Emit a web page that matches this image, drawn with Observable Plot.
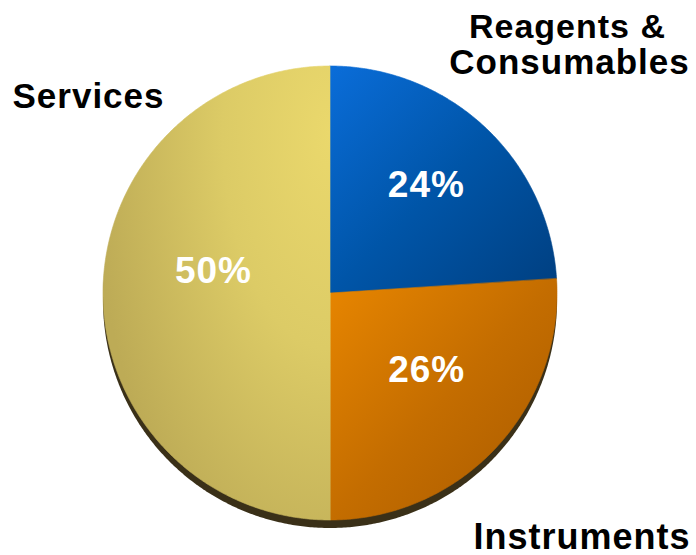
<!DOCTYPE html>
<html><head><meta charset="utf-8">
<script src="https://cdn.jsdelivr.net/npm/d3@7"></script>
<script src="https://cdn.jsdelivr.net/npm/@observablehq/plot@0.6"></script>
<style>
html,body{margin:0;padding:0;background:#fff;}
#chart svg text{letter-spacing:1px;}
</style></head><body><div id="chart"></div>
<script>
// ---- data ----
const categories = ["Reagents & Consumables", "Instruments", "Services"];
const shares = [24, 26, 50];
const valueLabels = ["24%", "26%", "50%"];
const nameLabels = ["Reagents &", "Consumables", "Instruments", "Services"];

// ---- layout / style ----
const W = 696, H = 555, CX = 330, CY = 293, R = 227;
const FONT = "'Liberation Sans', Arial, Helvetica, sans-serif";
const gradients = [
  {id: "g0", x1: 0, y1: 0, x2: 1, y2: 1, stops: [[0, "#0a6dd9"], [0.5, "#0055a8"], [1, "#003f80"]]},
  {id: "g1", x1: 0, y1: 0, x2: 1, y2: 1, stops: [[0, "#e88600"], [0.5, "#c46d00"], [1, "#a85a00"]]}
];
const labelNudge = [[-2, -4], [-8, -21], [26, -22]];

const total = d3.sum(shares);
let acc = 0;
const slices = categories.map((c, i) => {
  const a0 = acc / total * 2 * Math.PI; acc += shares[i];
  const a1 = acc / total * 2 * Math.PI;
  return {c, i, a0, a1, value: shares[i], label: valueLabels[i]};
});
function arcPoints(s) {
  const n = Math.max(2, Math.ceil((s.a1 - s.a0) / (Math.PI / 360)));
  return d3.range(n + 1).map(k => {
    const a = s.a0 + (s.a1 - s.a0) * k / n;
    return {c: s.c, x: R * Math.sin(a), y: R * Math.cos(a)};
  });
}
const allPts = slices.flatMap(arcPoints);

const defs = () => {
  const d = d3.create("svg:defs");
  for (const g of gradients) {
    const lg = d.append("linearGradient").attr("id", g.id)
      .attr("x1", g.x1).attr("y1", g.y1).attr("x2", g.x2).attr("y2", g.y2);
    for (const [o, c] of g.stops) lg.append("stop").attr("offset", o).attr("stop-color", c);
  }
  const rg = d.append("radialGradient").attr("id", "g2")
    .attr("cx", 1).attr("cy", 0.15).attr("r", 1.05).attr("fx", 1).attr("fy", 0.15);
  [[0, "#ead86c"], [0.45, "#dccb66"], [1, "#bdab56"]].forEach(([o, c]) =>
    rg.append("stop").attr("offset", o).attr("stop-color", c));
  return d.node();
};

const marks = [defs];
// shadow
marks.push(Plot.area(allPts, {x1: "x", y1: "y", x2: d => 0, y2: d => 0, z: "c", fill: "#3a3018", dy: 8}));
// slices
slices.forEach((s, i) => {
  marks.push(Plot.area(arcPoints(s), {x1: "x", y1: "y", x2: d => 0, y2: d => 0,
    fill: `url(#g${i})`, stroke: `url(#g${i})`, strokeWidth: 0.6}));
});
// value labels
slices.forEach((s, i) => {
  const mid = (s.a0 + s.a1) / 2, r = 0.63 * R;
  marks.push(Plot.text([s], {x: d => r * Math.sin(mid), y: d => r * Math.cos(mid), text: "label",
    fill: "white", fontSize: 37, fontWeight: "bold", fontFamily: FONT,
    dx: labelNudge[i][0], dy: labelNudge[i][1]}));
});
// category labels
const catStyle = {fontWeight: "bold", fontFamily: FONT, fill: "black"};
marks.push(Plot.text([nameLabels[0]], {frameAnchor: "top-right", textAnchor: "middle", lineAnchor: "top",
  dx: -129, dy: 13, fontSize: 34, ...catStyle}));
marks.push(Plot.text([nameLabels[1]], {frameAnchor: "top-right", textAnchor: "middle", lineAnchor: "top",
  dx: -127, dy: 49, fontSize: 35, ...catStyle}));
marks.push(Plot.text([nameLabels[3]], {frameAnchor: "top-left", textAnchor: "start", lineAnchor: "top",
  dx: 12, dy: 83, fontSize: 35, ...catStyle}));
marks.push(Plot.text([nameLabels[2]], {frameAnchor: "bottom-right", textAnchor: "end", lineAnchor: "bottom",
  dx: -6, dy: -7, fontSize: 36, ...catStyle}));

const chart = Plot.plot({
  width: W, height: H, margin: 0,
  x: {domain: [-CX, W - CX], axis: null},
  y: {domain: [-(H - CY), CY], axis: null},
  style: {background: "white", overflow: "visible"},
  marks
});
document.getElementById("chart").appendChild(chart);
</script></body></html>
